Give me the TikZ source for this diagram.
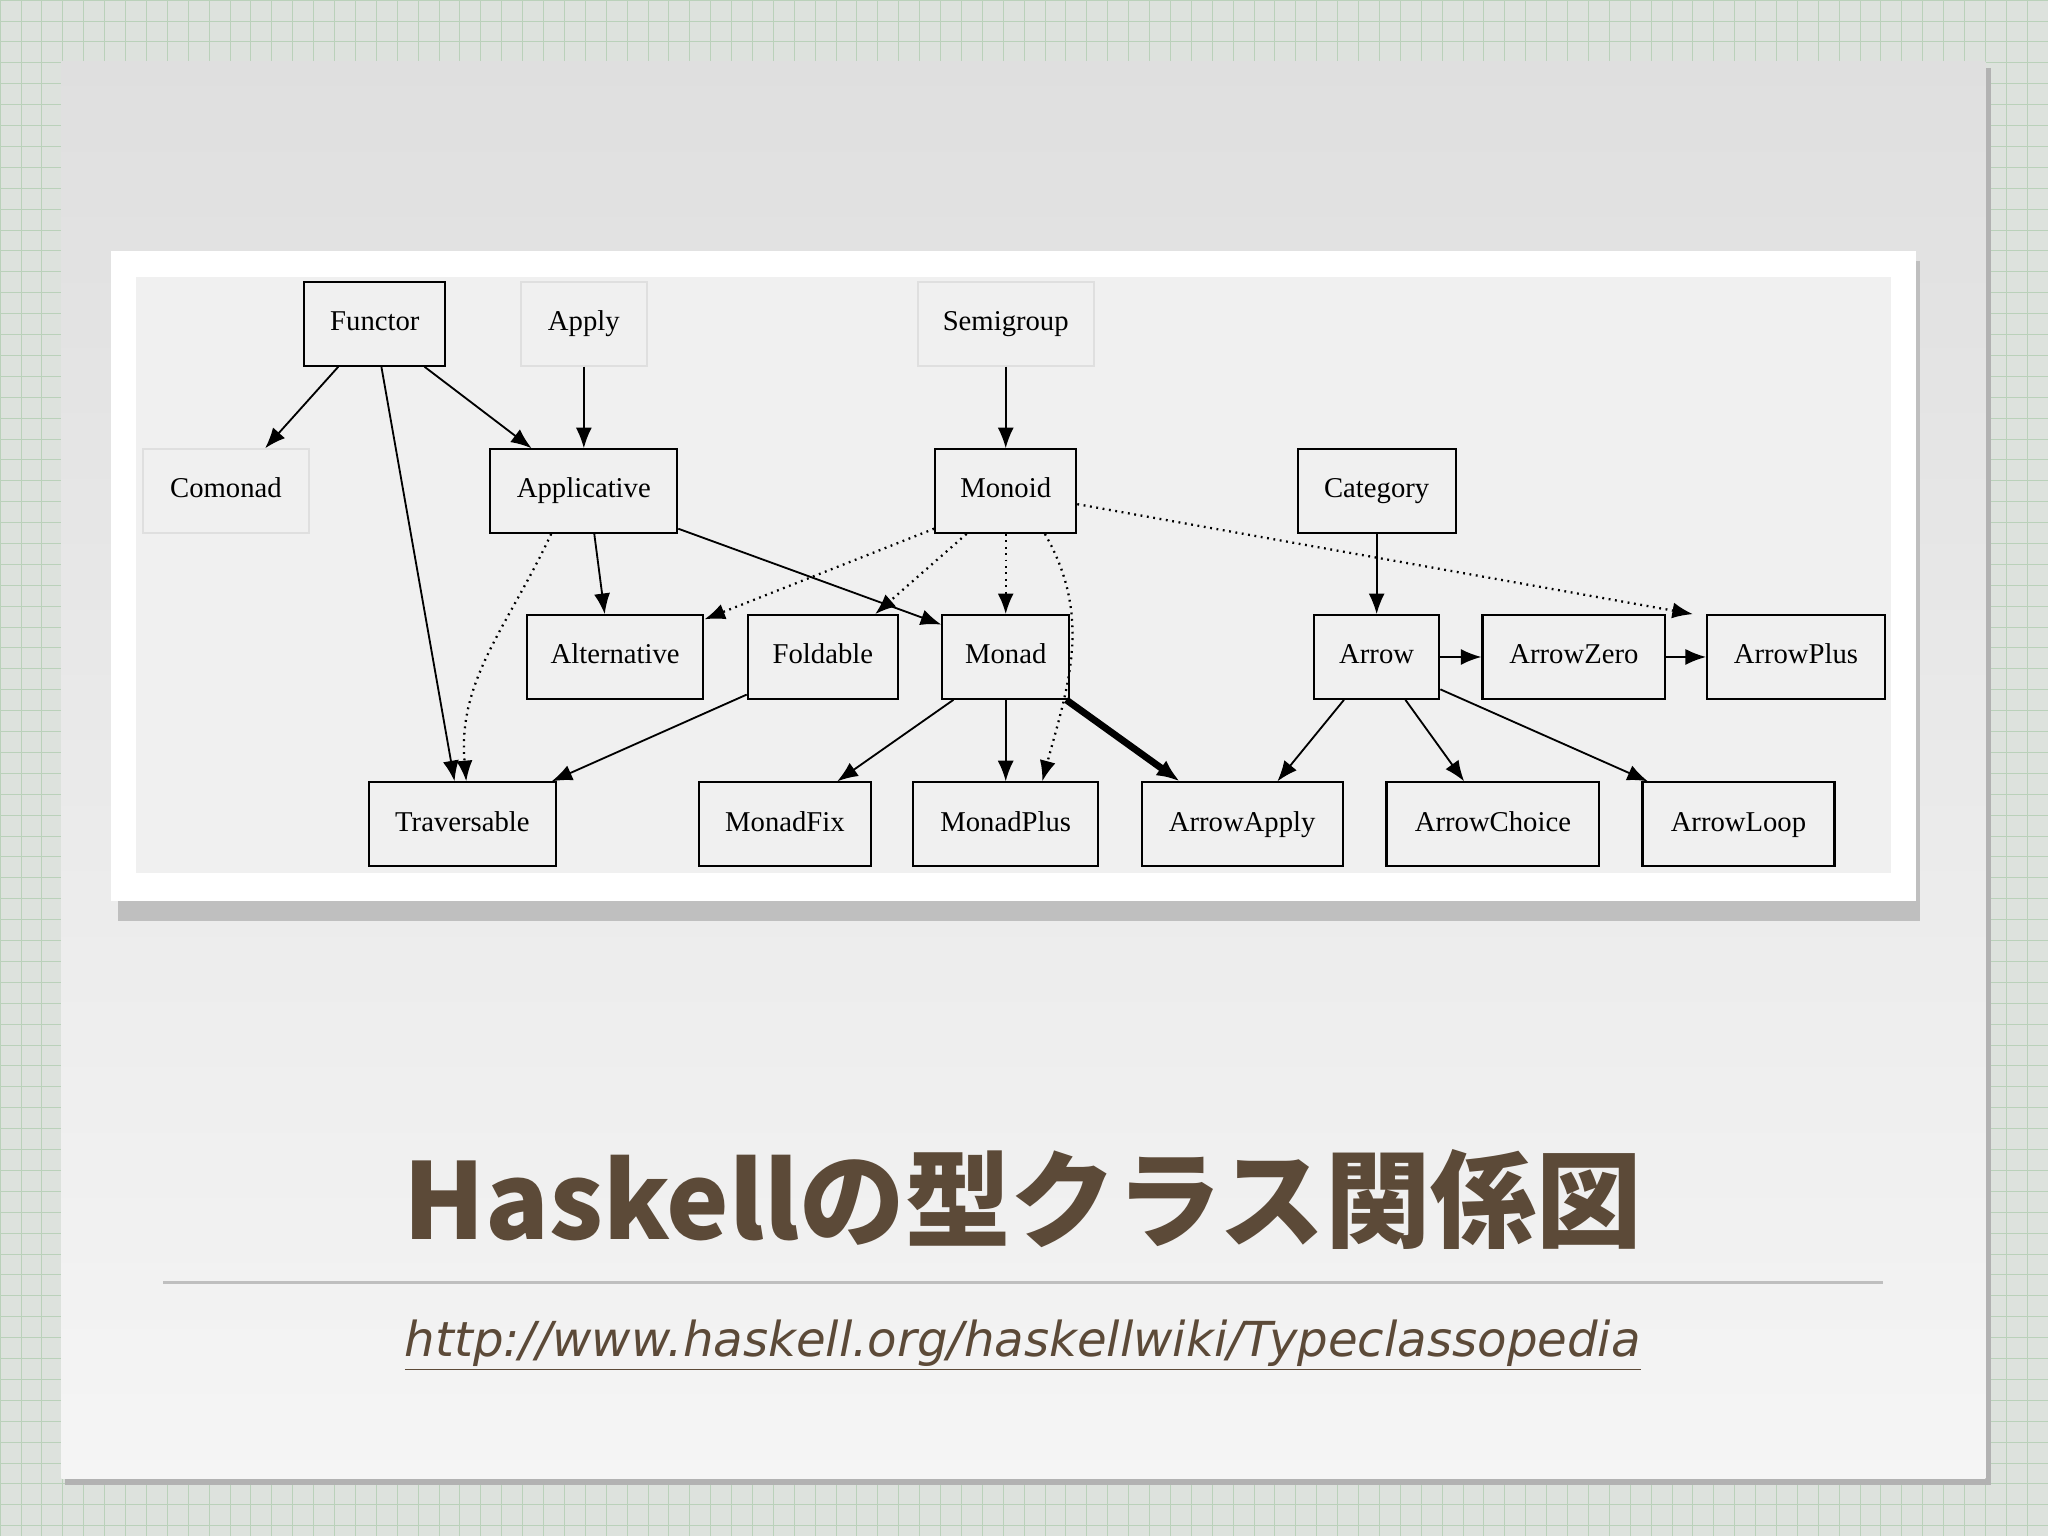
\documentclass[tikz,border=0pt]{standalone}
\usepackage{fontspec}
\setmainfont{Liberation Serif}
\newfontfamily\cjkfont{Noto Sans CJK JP}
\newfontfamily\urlfont{DejaVu Sans}
\usetikzlibrary{arrows.meta,calc}
\begin{document}
\begin{tikzpicture}[x=0.02cm,y=-0.02cm,
  cls/.style={draw=black,line width=0.9pt,fill=none,minimum height=64*0.02cm,inner sep=0pt,text height=8.5pt,text depth=2.5pt,font=\fontsize{12.5}{14}\selectfont},
  faint/.style={cls,draw=gray!25},
  edge/.style={-{Latex[length=9pt,width=7pt]},line width=0.8pt},
  dotedge/.style={edge,dotted,line width=1pt}]
\useasboundingbox (0,0) rectangle (1568,1176);
\fill[green!8!gray!25] (0,0) rectangle (1568,1176);
\foreach \i in {0,16,...,1568} \draw[green!20!gray!45,line width=0.3pt] (\i,0) -- (\i,1176);
\foreach \j in {0,16,...,1176} \draw[green!20!gray!45,line width=0.3pt] (0,\j) -- (1568,\j);
\fill[gray!60] (50,52) rectangle (1524,1137);
\shade[top color=gray!25,bottom color=gray!8] (47,47) rectangle (1520,1132);
\fill[gray!50] (90,200) rectangle (1470,705);
\fill[white] (85,192) rectangle (1467,690);
\fill[gray!12] (104,212) rectangle (1448,668);
\node[cls,minimum width=108*0.02cm] (Functor) at (287,248) {Functor};
\node[faint,minimum width=96*0.02cm] (Apply) at (447,248) {Apply};
\node[faint,minimum width=135*0.02cm] (Semigroup) at (770,248) {Semigroup};
\node[faint,minimum width=127*0.02cm] (Comonad) at (173,376) {Comonad};
\node[cls,minimum width=143*0.02cm] (Applicative) at (447,376) {Applicative};
\node[cls,minimum width=108*0.02cm] (Monoid) at (770,376) {Monoid};
\node[cls,minimum width=121*0.02cm] (Category) at (1054,376) {Category};
\node[cls,minimum width=135*0.02cm] (Alternative) at (471,503) {Alternative};
\node[cls,minimum width=115*0.02cm] (Foldable) at (630,503) {Foldable};
\node[cls,minimum width=97*0.02cm] (Monad) at (770,503) {Monad};
\node[cls,minimum width=96*0.02cm] (Arrow) at (1054,503) {Arrow};
\node[cls,minimum width=140*0.02cm] (ArrowZero) at (1205,503) {ArrowZero};
\node[cls,minimum width=136*0.02cm] (ArrowPlus) at (1375,503) {ArrowPlus};
\node[cls,minimum width=143*0.02cm] (Traversable) at (354,631) {Traversable};
\node[cls,minimum width=131*0.02cm] (MonadFix) at (601,631) {MonadFix};
\node[cls,minimum width=142*0.02cm] (MonadPlus) at (770,631) {MonadPlus};
\node[cls,minimum width=154*0.02cm] (ArrowApply) at (951,631) {ArrowApply};
\node[cls,minimum width=163*0.02cm] (ArrowChoice) at (1143,631) {ArrowChoice};
\node[cls,minimum width=147*0.02cm] (ArrowLoop) at (1331,631) {ArrowLoop};
\draw[edge] ($(Functor.south)+(-28,0)$) -- ($(Comonad.north)+(30,0)$);
\draw[edge] ($(Functor.south)+(38,0)$) -- ($(Applicative.north)+(-40,0)$);
\draw[edge] ($(Functor.south)+(5,0)$) -- ($(Traversable.north)+(-6,0)$);
\draw[edge] (Apply) -- (Applicative);
\draw[edge] (Semigroup) -- (Monoid);
\draw[edge] ($(Applicative.south)+(8,0)$) -- ($(Alternative.north)+(-8,0)$);
\draw[edge] ($(Applicative.south east)+(0,-4)$) -- ($(Monad.north west)+(0,8)$);
\draw[dotedge] ($(Applicative.south)+(-25,0)$) to[out=-115,in=95] ($(Traversable.north)+(3,0)$);
\draw[dotedge] ($(Monoid.south west)+(0,-4)$) -- ($(Alternative.north east)+(0,4)$);
\draw[dotedge] ($(Monoid.south)+(-30,0)$) -- ($(Foldable.north)+(40,0)$);
\draw[dotedge] (Monoid) -- (Monad);
\draw[dotedge] ($(Monoid.south)+(30,0)$) to[out=-60,in=75] ($(MonadPlus.north)+(28,0)$);
\draw[dotedge] ($(Monoid.east)+(0,10)$) -- ($(ArrowPlus.north west)+(-10,0)$);
\draw[edge] ($(Foldable.south west)+(0,-4)$) -- ($(Traversable.north east)+(-4,0)$);
\draw[edge] ($(Monad.south)+(-40,0)$) -- ($(MonadFix.north)+(40,0)$);
\draw[edge] (Monad) -- (MonadPlus);
\draw[-{Latex[length=10pt,width=8pt]},line width=3pt] ($(Monad.south east)+(-3,0)$) -- ($(ArrowApply.north west)+(30,0)$);
\draw[edge] (Category) -- (Arrow);
\draw[edge] (Arrow) -- (ArrowZero);
\draw[edge] (ArrowZero) -- (ArrowPlus);
\draw[edge] ($(Arrow.south)+(-25,0)$) -- ($(ArrowApply.north)+(27,0)$);
\draw[edge] ($(Arrow.south)+(22,0)$) -- ($(ArrowChoice.north)+(-22,0)$);
\draw[edge] ($(Arrow.south east)+(0,-8)$) -- ($(ArrowLoop.north west)+(5,0)$);
\node[text=black!60!brown!70!gray,font=\cjkfont\bfseries\fontsize{46}{52}\selectfont] (title) at (783,918) {Haskellの型クラス関係図};
\draw[gray!50,line width=1pt] (125,982) -- (1442,982);
\node[text=black!60!brown!70!gray,font=\urlfont\itshape\fontsize{21}{24}\selectfont] (url) at (783,1030) {\underline{http://www.haskell.org/haskellwiki/Typeclassopedia}};
\end{tikzpicture}
\end{document}
